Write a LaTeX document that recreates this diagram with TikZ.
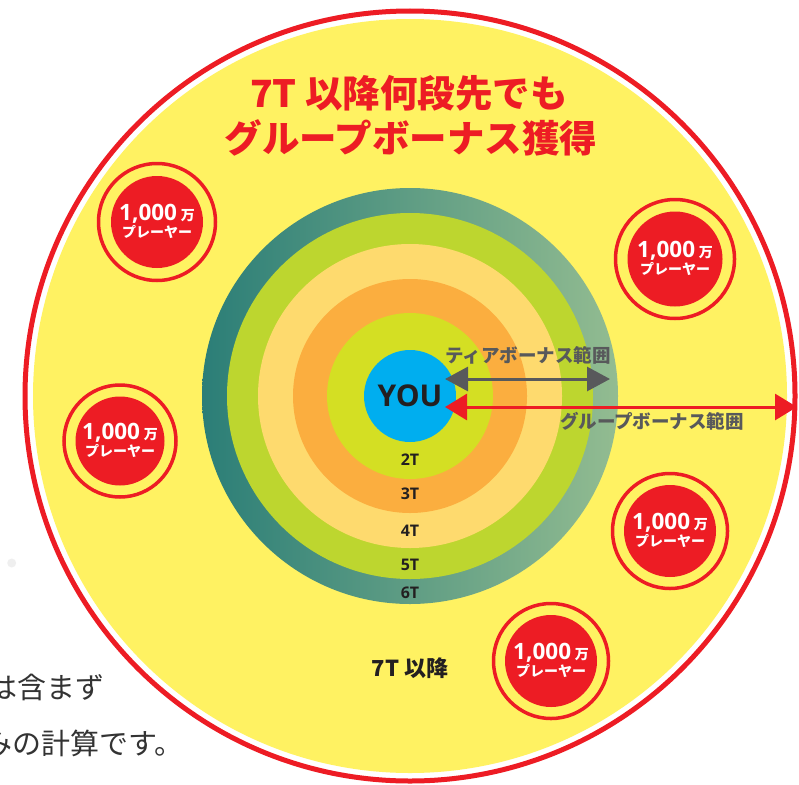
\documentclass[tikz,border=0pt]{standalone}
\usepackage{fontspec}
\setmainfont{Open Sans}
\newfontfamily\cjk{Noto Sans CJK JP}
\usetikzlibrary{arrows.meta}
\definecolor{tred}{HTML}{ED1C24}
\definecolor{yel}{HTML}{FFF262}
\definecolor{youc}{HTML}{00AEEF}
\definecolor{rtwo}{HTML}{D4DF23}
\definecolor{rthree}{HTML}{FBAE3F}
\definecolor{rfour}{HTML}{FEDA6E}
\definecolor{rfive}{HTML}{BDD62F}
\definecolor{rsixL}{HTML}{2B7E77}
\definecolor{rsixR}{HTML}{93BC91}
\definecolor{arrgray}{HTML}{58595B}
\definecolor{ink}{HTML}{231F20}
\definecolor{notec}{HTML}{333333}
\newcommand\pcircle[5]{%
  \node[pring=#4] (#1ring) at (#2,#3) {};
  \node[pdisk=#5] (#1) at (#2,#3) {};
  \node[pnum, anchor=base] (#1num) at ([yshift=1.5pt]#1.center) {1,000\,{\cjk\bfseries\fontsize{14}{14}\selectfont 万}};
  \node[ptxt, anchor=base] (#1txt) at ([yshift=-15pt]#1.center) {プレーヤー};
}
\begin{document}
\begin{tikzpicture}[x=1pt,y=-1pt,
  ring/.style={circle, inner sep=0, minimum size=#1},
  pring/.style={circle, draw=tred, line width=3.5pt, minimum size=#1, inner sep=0},
  pdisk/.style={circle, fill=tred, minimum size=#1, inner sep=0},
  pnum/.style={text=white, font=\bfseries\fontsize{22.5}{22.5}\selectfont, inner sep=0},
  ptxt/.style={text=white, font=\cjk\bfseries\fontsize{14}{14}\selectfont, inner sep=0},
  tier/.style={text=ink, font=\bfseries\fontsize{16}{16}\selectfont, inner sep=0},
  rangelbl/.style={text=arrgray, font=\cjk\bfseries\fontsize{18.5}{18.5}\selectfont, inner sep=0},
  titletxt/.style={text=tred, font=\cjk\bfseries\fontsize{37.5}{37.5}\selectfont, inner sep=0},
  notetxt/.style={text=notec, font=\cjk\fontsize{29}{29}\selectfont, inner sep=0, anchor=west},
  rangearrow/.style={line width=3pt}
]
\clip (0,0) rectangle (799,784);
\fill[white] (0,0) rectangle (799,784);
% faint dot
\fill[gray!30, opacity=0.4] (11.7,563) circle (4.5);
% outer ring and yellow field
\node[circle, draw=tred, line width=5pt, minimum size=770, inner sep=0] (outer) at (410,396) {};
\node[ring=754, fill=yel] (field) at (410,396) {};
% title
\node[titletxt] (title1) at (409,93) {7T 以降何段先でも};
\node[titletxt] (title2) at (411,138) {グループボーナス獲得};
% tiers
\node[ring=416, left color=rsixL, right color=rsixR] (t6) at (410,396) {};
\node[ring=366, fill=rfive] (t5) at (410,396) {};
\node[ring=304, fill=rfour] (t4) at (410,396) {};
\node[ring=234, fill=rthree] (t3) at (410,396) {};
\node[ring=166, fill=rtwo] (t2) at (410,396) {};
\node[ring=92, fill=youc, text=ink, font=\bfseries\fontsize{30}{30}\selectfont] (you) at (410,396) {YOU};
\node[tier] (l2) at (410,460) {2T};
\node[tier] (l3) at (410,494) {3T};
\node[tier] (l4) at (410,531) {4T};
\node[tier] (l5) at (410,565) {5T};
\node[tier] (l6) at (410,593) {6T};
\node[text=ink, font=\cjk\bfseries\fontsize{22}{22}\selectfont, inner sep=0] (l7) at (410,668) {7T 以降};
% ranges
\coordinate (tierL) at (445,379);
\coordinate (tierR) at (610,379);
\coordinate (grpL) at (445,407);
\coordinate (grpR) at (797,407);
\draw[rangearrow, draw=arrgray, fill=arrgray, {Triangle[length=23pt,width=24pt]}-{Triangle[length=23pt,width=24pt]}] (tierL) -- (tierR);
\draw[rangearrow, draw=tred, fill=tred, {Triangle[length=22pt,width=26pt]}-{Triangle[length=22pt,width=26pt]}] (grpL) -- (grpR);
\node[rangelbl] (tierlbl) at (528,355) {ティアボーナス範囲};
\node[rangelbl] (grplbl) at (652,421) {グループボーナス範囲};
% players
\pcircle{pa}{157}{222}{117}{92}
\pcircle{pb}{675}{259}{119}{95}
\pcircle{pc}{120}{441}{112}{89}
\pcircle{pd}{670}{531}{115}{92}
\pcircle{pe}{551}{661}{115}{92}
% cut-off notes
\node[notetxt] (note1) at (-12,687) {は含まず};
\node[notetxt] (note2) at (-17,743) {みの計算です。};
\end{tikzpicture}
\end{document}
